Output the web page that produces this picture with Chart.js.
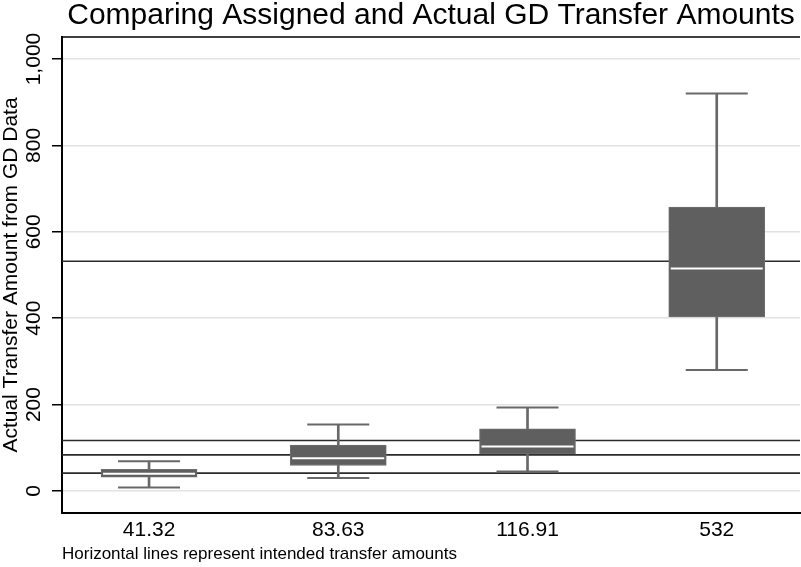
<!DOCTYPE html>
<html>
<head>
<meta charset="utf-8">
<title>GD Transfer Amounts</title>
<script src="https://cdn.jsdelivr.net/npm/chart.js@4/dist/chart.umd.min.js"></script>
<style>
  html, body { margin: 0; padding: 0; background: #fff; }
  #wrap { width: 801px; height: 567px; }
</style>
</head>
<body>
<div id="wrap"><canvas id="boxChart" width="801" height="567"></canvas></div>
<script>
// groups (intended transfer amount) and box summaries
const categories = ['41.32', '83.63', '116.91', '532'];
const positions = [1, 2, 3, 4];
const intended = [41.32, 83.63, 116.91, 532];
const whiskerLow = [8, 30, 45, 280];
const q1 = [32, 59, 86, 403];
const median = [40, 76, 103, 515];
const q3 = [50, 106, 144, 657];
const whiskerHigh = [69, 154, 193, 920];
const yTicks = [0, 200, 400, 600, 800, 1000];

const FONT = 'Liberation Sans, Arial, Helvetica, sans-serif';
const boxGrey = '#5f5f5f';
const whiskerGrey = '#686868';

// horizontal lines at the intended amounts (under the boxes) + top frame line
const intendedLines = {
    id: 'intendedLines',
    beforeDatasetsDraw(chart) {
        const { ctx, chartArea, scales } = chart;
        ctx.save();
        ctx.strokeStyle = '#2b2b2b';
        ctx.lineWidth = 1.6;
        intended.forEach(v => {
            const y = scales.y.getPixelForValue(v);
            ctx.beginPath();
            ctx.moveTo(chartArea.left, y);
            ctx.lineTo(chartArea.right, y);
            ctx.stroke();
        });
        ctx.strokeStyle = '#000';
        ctx.beginPath();
        ctx.moveTo(chartArea.left, chartArea.top);
        ctx.lineTo(chartArea.right, chartArea.top);
        ctx.stroke();
        ctx.restore();
    }
};

const ctx = document.getElementById('boxChart').getContext('2d');
new Chart(ctx, {
    type: 'bar',
    data: {
        datasets: [
            {
                label: 'whisker',
                data: positions.map((x, i) => ({ x: x, y: [whiskerLow[i], whiskerHigh[i]] })),
                backgroundColor: whiskerGrey,
                barThickness: 2,
                grouped: false,
                order: 3
            },
            {
                label: 'box',
                data: positions.map((x, i) => ({ x: x, y: [q1[i], q3[i]] })),
                backgroundColor: boxGrey,
                borderColor: '#6e6e6e',
                borderWidth: 1,
                borderSkipped: false,
                barThickness: 96,
                grouped: false,
                order: 2
            },
            {
                type: 'scatter',
                label: 'caps',
                data: positions.flatMap((x, i) => [{ x: x, y: whiskerLow[i] }, { x: x, y: whiskerHigh[i] }]),
                pointStyle: 'line',
                radius: 31,
                borderColor: whiskerGrey,
                borderWidth: 2,
                order: 1
            },
            {
                type: 'scatter',
                label: 'median',
                data: positions.map((x, i) => ({ x: x, y: median[i] })),
                pointStyle: 'line',
                radius: 46,
                borderColor: '#ffffff',
                borderWidth: 2,
                order: 0
            }
        ]
    },
    options: {
        responsive: false,
        animation: false,
        events: [],
        layout: { autoPadding: false, padding: { left: 0, right: 1, top: 0, bottom: 0 } },
        plugins: {
            legend: { display: false },
            tooltip: { enabled: false },
            title: {
                display: true,
                fullSize: false,
                text: 'Comparing Assigned and Actual GD Transfer Amounts',
                color: '#000',
                font: { family: FONT, size: 30, weight: 'normal', lineHeight: 1 },
                padding: { top: 1, bottom: 6 }
            }
        },
        scales: {
            x: {
                type: 'linear',
                position: 'bottom',
                offset: false,
                min: 0.54,
                max: 4.44,
                afterBuildTicks: s => { s.ticks = positions.map(v => ({ value: v })); },
                afterFit: s => { s.height = 54; },
                ticks: {
                    color: '#000',
                    font: { family: FONT, size: 21 },
                    padding: 5,
                    callback: (v, i) => categories[i]
                },
                grid: { display: false, drawTicks: false, offset: false },
                border: { display: true, color: '#000', width: 2 },
                title: {
                    display: true,
                    align: 'start',
                    text: 'Horizontal lines represent intended transfer amounts',
                    color: '#000',
                    font: { family: FONT, size: 17 },
                    padding: { top: 0, bottom: 2 }
                }
            },
            y: {
                type: 'linear',
                min: -51,
                max: 1051,
                afterBuildTicks: s => { s.ticks = yTicks.map(v => ({ value: v })); },
                afterFit: s => { s.width = 62; },
                ticks: {
                    color: '#000',
                    font: { family: FONT, size: 21 },
                    minRotation: 90,
                    maxRotation: 90,
                    crossAlign: 'center',
                    padding: -8,
                    callback: v => v.toLocaleString('en-US')
                },
                grid: {
                    color: '#e2e2e2',
                    lineWidth: 1.5,
                    tickLength: 10,
                    tickColor: '#000',
                    tickWidth: 1.5
                },
                border: { display: true, color: '#000', width: 2 },
                title: {
                    display: true,
                    text: 'Actual Transfer Amount from GD Data',
                    color: '#000',
                    font: { family: FONT, size: 21, lineHeight: 1.1 },
                    padding: 0
                }
            }
        }
    },
    plugins: [intendedLines]
});
</script>
</body>
</html>
